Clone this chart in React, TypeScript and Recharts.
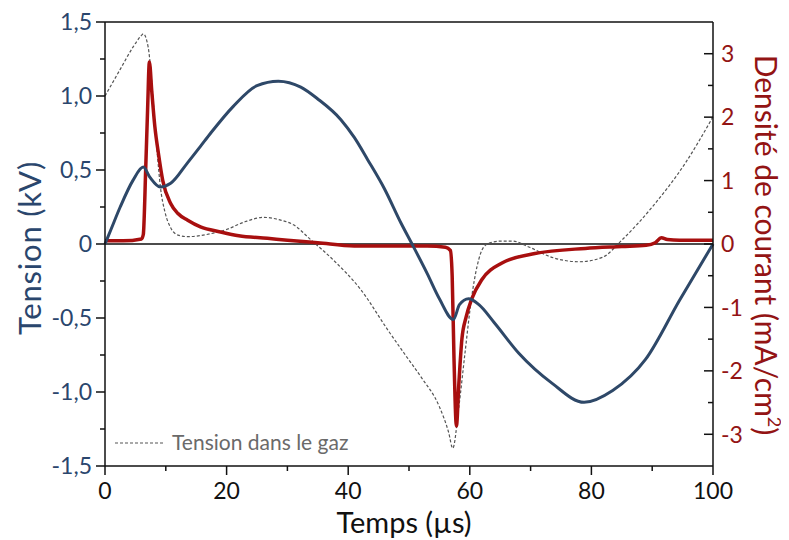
import React from 'react';
import { LineChart, Line, XAxis, YAxis, ReferenceLine, Legend, Label } from 'recharts';

// Tension appliquée (kV) — left axis
const tensionTime = [0, 1, 2.5, 4.6, 6.3, 7.4, 9.1, 10.8, 13.6, 15.7, 17.4, 21.1, 25, 28.5, 32.2, 35, 38.8, 41, 43.2, 46, 48.7, 50.5, 53, 55, 57.3, 58.3, 59.8, 61.5, 64, 68.1, 73.5, 78.8, 83.5, 88.9, 94.5, 100];
const tensionKV = [0, 0.1, 0.25, 0.43, 0.52, 0.45, 0.385, 0.41, 0.55, 0.66, 0.75, 0.93, 1.07, 1.1, 1.06, 0.98, 0.84, 0.72, 0.57, 0.37, 0.14, 0, -0.2, -0.37, -0.51, -0.41, -0.37, -0.41, -0.53, -0.74, -0.94, -1.07, -0.99, -0.78, -0.38, 0];

// Densité de courant (mA/cm²) — right axis
const currentTime = [0, 3, 6, 6.3, 6.7, 7.0, 7.3, 7.7, 8.2, 8.8, 9.5, 10.8, 12, 13.6, 15.7, 19, 22, 26.7, 30, 35, 41, 48, 53, 56, 56.8, 57.1, 57.4, 57.8, 58.2, 58.7, 59.4, 60.3, 62, 65.3, 70.7, 79, 85, 89, 90.5, 91.5, 92.5, 94.5, 100];
const currentDensity = [0.05, 0.05, 0.08, 0.15, 1.2, 2.1, 2.87, 2.4, 1.85, 1.42, 1.0, 0.64, 0.48, 0.375, 0.27, 0.19, 0.13, 0.09, 0.06, 0.02, -0.03, -0.03, -0.03, -0.05, -0.1, -0.5, -1.8, -2.87, -2.2, -1.5, -1.15, -0.87, -0.56, -0.3, -0.15, -0.07, -0.04, -0.02, 0.02, 0.1, 0.07, 0.06, 0.06];

// Tension dans le gaz (kV) — left axis, dashed
const gasTime = [0, 2.5, 4.6, 5.8, 6.3, 7.1, 8, 8.6, 9.1, 9.9, 10.8, 12, 13.6, 17.4, 20.1, 23, 26.1, 29, 31, 33.8, 37.6, 42.1, 46.5, 49.4, 52, 55, 56.5, 57.2, 58.2, 59.2, 60.3, 61.2, 62.3, 63.5, 65.3, 67, 69.7, 73.5, 78, 81.8, 85.1, 90, 95.5, 100];
const gasKV = [1.0, 1.18, 1.33, 1.4, 1.42, 1.33, 0.93, 0.61, 0.39, 0.21, 0.11, 0.06, 0.05, 0.07, 0.1, 0.15, 0.18, 0.16, 0.13, 0.03, -0.11, -0.31, -0.58, -0.75, -0.9, -1.1, -1.27, -1.38, -1.1, -0.74, -0.36, -0.15, -0.02, 0.01, 0.02, 0.02, -0.02, -0.09, -0.12, -0.09, 0.03, 0.25, 0.55, 0.86];

const leftTicks = [-1.5, -1.25, -1, -0.75, -0.5, -0.25, 0, 0.25, 0.5, 0.75, 1, 1.25, 1.5];
const rightTicks = [-3, -2.5, -2, -1.5, -1, -0.5, 0, 0.5, 1, 1.5, 2, 2.5, 3];
const timeTicks = [0, 10, 20, 30, 40, 50, 60, 70, 80, 90, 100];

const xTitle = 'Temps (µs)';
const leftTitle = 'Tension (kV)';
const rightTitleMain = 'Densité de courant (mA/cm';
const rightTitleSup = '2';
const rightTitleEnd = ')';
const gasLabel = 'Tension dans le gaz';

const zip = (t: number[], v: number[]) => t.map((x, i) => ({ t: x, v: v[i] }));
const tensionData = zip(tensionTime, tensionKV);
const currentData = zip(currentTime, currentDensity);
const gasData = zip(gasTime, gasKV);

const FONT = 'Lato, "Open Sans", sans-serif';
const NAVY = '#2a466d';
const BLUE_LINE = '#2e4868';
const RED_LINE = '#a80f0f';
const RED_TEXT = '#931414';
const AXIS = '#111';
const TICK_FONT = 23;

const isMultiple = (v: number, step: number) => Math.abs(v / step - Math.round(v / step)) < 1e-6;
const fmtLeft = (v: number) => (v === 0 ? '0' : v.toFixed(1).replace('.', ','));

const LeftTick = (props: any) => {
  const { x, y, payload } = props;
  const v = payload.value;
  const major = isMultiple(v, 0.5);
  const ax = x + 12;
  return (
    <g>
      <line x1={ax - (major ? 9 : 5)} x2={ax} y1={y} y2={y} stroke={AXIS} strokeWidth={1.5} />
      {major && (
        <text x={ax - 13} y={y} dy="0.36em" textAnchor="end" fill={NAVY} fontSize={TICK_FONT} fontFamily={FONT}>
          {fmtLeft(v)}
        </text>
      )}
    </g>
  );
};

const RightTick = (props: any) => {
  const { x, y, payload } = props;
  const v = payload.value;
  const major = isMultiple(v, 1);
  const ax = x - 9;
  return (
    <g>
      <line x1={ax - (major ? 9 : 5)} x2={ax} y1={y} y2={y} stroke={AXIS} strokeWidth={1.5} />
      {major && (
        <text x={ax + 8} y={y} dy="0.36em" textAnchor="start" fill={RED_TEXT} fontSize={TICK_FONT} fontFamily={FONT}>
          {String(v)}
        </text>
      )}
    </g>
  );
};

const BottomTick = (props: any) => {
  const { x, y, payload } = props;
  const v = payload.value;
  const major = isMultiple(v, 20);
  return (
    <g>
      <line x1={x} x2={x} y1={y} y2={y + (major ? 9 : 5)} stroke={AXIS} strokeWidth={1.5} />
      {major && (
        <text x={x} y={y + 33} textAnchor="middle" fill="#111" fontSize={TICK_FONT} fontFamily={FONT}>
          {String(v)}
        </text>
      )}
    </g>
  );
};

const LeftTitle = (props: any) => {
  const vb = props.viewBox;
  const cx = vb.x + 21;
  const cy = vb.y + vb.height / 2 + 4;
  return (
    <text x={cx} y={cy} transform={`rotate(-90 ${cx} ${cy})`} textAnchor="middle" dominantBaseline="central" fill={NAVY} fontSize={31} letterSpacing={0.8} fontFamily={FONT}>
      {leftTitle}
    </text>
  );
};

const RightTitle = (props: any) => {
  const vb = props.viewBox;
  const cx = vb.x + 54;
  const cy = vb.y + vb.height / 2 + 1;
  return (
    <text x={cx} y={cy} transform={`rotate(90 ${cx} ${cy})`} textAnchor="middle" dominantBaseline="central" fill={RED_TEXT} fontSize={30} fontFamily={FONT}>
      {rightTitleMain}
      <tspan dy={-8} fontSize={18}>{rightTitleSup}</tspan>
      <tspan dy={8}>{rightTitleEnd}</tspan>
    </text>
  );
};

const BottomTitle = (props: any) => {
  const vb = props.viewBox;
  const cx = vb.x + vb.width / 2 - 5;
  const cy = vb.y + 55;
  return (
    <text x={cx} y={cy} textAnchor="middle" dominantBaseline="central" fill="#111" fontSize={29} fontFamily={FONT}>
      {xTitle}
    </text>
  );
};

const GasLegend = () => (
  <svg width={300} height={30}>
    <line x1={7} x2={57} y1={15} y2={15} stroke="#555" strokeWidth={1.2} strokeDasharray="3 2" />
    <text x={64} y={15} dy="0.35em" fontSize={21} fill="#6a6a6a" fontFamily={FONT}>
      {gasLabel}
    </text>
  </svg>
);

export default function App() {
  return (
    <LineChart width={781} height={532} margin={{ top: 14, right: 0, bottom: 8, left: 0 }}>
      <XAxis
        dataKey="t"
        type="number"
        domain={[0, 100]}
        ticks={timeTicks}
        interval={0}
        tickSize={0}
        tickMargin={0}
        tickLine={false}
        tick={<BottomTick />}
        axisLine={{ stroke: AXIS, strokeWidth: 1.5 }}
        height={66}
        allowDuplicatedCategory={false}
      >
        <Label content={<BottomTitle />} />
      </XAxis>
      <YAxis
        yAxisId="left"
        orientation="left"
        type="number"
        domain={[-1.5, 1.5]}
        ticks={leftTicks}
        interval={0}
        tickSize={0}
        tickMargin={12}
        tickLine={false}
        tick={<LeftTick />}
        axisLine={{ stroke: AXIS, strokeWidth: 1.5 }}
        width={97}
        allowDataOverflow
      >
        <Label content={<LeftTitle />} />
      </YAxis>
      <YAxis
        yAxisId="right"
        orientation="right"
        type="number"
        domain={[-3.5, 3.5]}
        ticks={rightTicks}
        interval={0}
        tickSize={0}
        tickMargin={9}
        tickLine={false}
        tick={<RightTick />}
        axisLine={{ stroke: AXIS, strokeWidth: 1.5 }}
        width={76}
        allowDataOverflow
      >
        <Label content={<RightTitle />} />
      </YAxis>
      <ReferenceLine yAxisId="left" y={1.5} stroke={AXIS} strokeWidth={1.5} />
      <ReferenceLine yAxisId="left" y={0} stroke={AXIS} strokeWidth={1.3} />
      <Legend
        layout="horizontal"
        verticalAlign="middle"
        align="center"
        wrapperStyle={{ left: 100, top: 420, width: 320, height: 30 }}
        content={<GasLegend />}
      />
      <Line
        yAxisId="left"
        data={gasData}
        dataKey="v"
        type="monotone"
        stroke="#555"
        strokeWidth={1.2}
        strokeDasharray="3 2"
        dot={false}
        isAnimationActive={false}
      />
      <Line
        yAxisId="right"
        data={currentData}
        dataKey="v"
        type="monotone"
        stroke={RED_LINE}
        strokeWidth={3.5}
        dot={false}
        isAnimationActive={false}
      />
      <Line
        yAxisId="left"
        data={tensionData}
        dataKey="v"
        type="monotone"
        stroke={BLUE_LINE}
        strokeWidth={3}
        dot={false}
        isAnimationActive={false}
      />
    </LineChart>
  );
}
